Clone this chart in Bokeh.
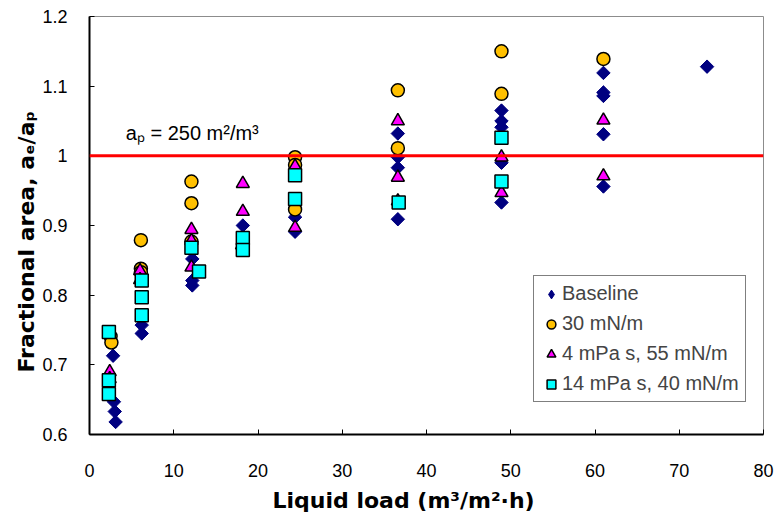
import math
from bokeh.plotting import figure
from bokeh.models import Span, FixedTicker, Legend, LegendItem, Label, Title
from bokeh.embed import file_html
from bokeh.resources import INLINE

# ---- data ----
base_x = [2.8, 2.9, 3.0, 3.1, 6.2, 6.2, 12.2, 12.2, 12.2, 18.2, 24.4, 24.4,
          36.6, 36.6, 36.6, 36.6, 48.9, 48.9, 48.9, 48.9, 48.9,
          61.0, 61.0, 61.0, 61.0, 61.0, 73.3]
base_y = [0.713, 0.647, 0.633, 0.618, 0.757, 0.745, 0.852, 0.821, 0.814, 0.900, 0.912, 0.891,
          1.032, 0.998, 0.983, 0.909, 1.065, 1.050, 1.041, 0.990, 0.933,
          1.119, 1.091, 1.086, 1.031, 0.956, 1.128]

c30_x = [2.5, 2.6, 6.1, 6.1, 6.1, 12.1, 12.1, 12.1, 24.4, 24.4, 24.4, 36.6, 36.6, 48.9, 48.9, 61.0]
c30_y = [0.741, 0.732, 0.879, 0.838, 0.833, 0.963, 0.932, 0.877, 0.998, 0.987, 0.923,
         1.094, 1.011, 1.150, 1.089, 1.139]

tri_x = [2.4, 2.4, 6.0, 6.0, 12.1, 12.1, 12.1, 18.2, 18.2, 18.1, 24.4, 24.4,
         36.6, 36.6, 36.6, 48.9, 48.9, 61.0, 61.0]
tri_y = [0.690, 0.680, 0.835, 0.822, 0.894, 0.878, 0.840, 0.960, 0.920, 0.872, 0.985, 0.897,
         1.050, 0.969, 0.935, 0.998, 0.947, 1.051, 0.971]

sq_x = [2.3, 2.3, 2.3, 6.2, 6.2, 6.2, 12.1, 13.0, 18.2, 18.2, 24.4, 24.4, 36.7, 48.9, 48.9]
sq_y = [0.747, 0.678, 0.658, 0.821, 0.797, 0.771, 0.868, 0.834, 0.882, 0.865, 0.972, 0.938,
        0.933, 1.026, 0.963]

x_ticks = [0, 10, 20, 30, 40, 50, 60, 70, 80]
y_ticks = [0.6, 0.7, 0.8, 0.9, 1.0, 1.1, 1.2]
y_tick_labels = ["0.6", "0.7", "0.8", "0.9", "1", "1.1", "1.2"]
ref_level = 1.0
series_names = ["Baseline", "30 mN/m", "4 mPa s, 55 mN/m", "14 mPa s, 40 mN/m"]
x_title = "Liquid load (m³/m²·h)"
y_title = "Fractional area,  aₑ/aₚ"
ref_text = "aₚ = 250 m²/m³"

FONT = "Liberation Sans"
TITLE_FONT = "DejaVu Sans"

p = figure(output_backend="svg", toolbar_location=None,
           x_range=(0, 80), y_range=(0.6, 1.2),
           frame_width=674, frame_height=418,
           min_border_left=89, min_border_right=13, min_border_top=16, min_border_bottom=84)
p.grid.visible = False
p.outline_line_color = "#8c8c8c"
p.outline_line_width = 1
p.background_fill_color = "white"

for ax in (p.xaxis[0], p.yaxis[0]):
    ax.axis_line_color = "black"
    ax.axis_line_width = 2
    ax.major_tick_line_color = "black"
    ax.major_tick_line_width = 1
    ax.major_tick_in = 5
    ax.major_tick_out = 0
    ax.minor_tick_line_color = None
    ax.major_label_text_font = FONT
    ax.major_label_text_font_size = "18px"
    ax.major_label_text_color = "black"

p.xaxis.ticker = FixedTicker(ticks=x_ticks)
p.yaxis.ticker = FixedTicker(ticks=y_ticks)
p.yaxis.major_label_overrides = {t: l for t, l in zip(y_ticks, y_tick_labels)}
p.xaxis.major_label_standoff = 29
p.yaxis.major_label_standoff = 22

# axis titles (placed like the original, slightly off-centre)
p.add_layout(Title(text=x_title, align="left", offset=183, standoff=12,
                   text_font=TITLE_FONT, text_font_style="bold", text_font_size="22px",
                   text_color="black"), "below")
p.add_layout(Title(text=y_title, align="left", offset=62, standoff=2,
                   text_font=TITLE_FONT, text_font_style="bold", text_font_size="22px",
                   text_color="black"), "left")

p.add_layout(Span(location=ref_level, dimension="width", line_color="#ff0000", line_width=3))

# narrow diamond used as the legend key; covered by the rotated squares in the plot
r_base_key = p.scatter(base_x, base_y, marker="diamond", size=12,
                       fill_color="#000080", line_color="#000080", line_width=1)
r_base = p.scatter(base_x, base_y, marker="square", angle=math.pi / 4, size=9.5,
                   fill_color="#000080", line_color="#000080", line_width=1)
r_c30 = p.scatter(c30_x, c30_y, marker="circle", size=13,
                  fill_color="#ffc000", line_color="black", line_width=1.5)
r_tri = p.scatter(tri_x, tri_y, marker="triangle", size=13,
                  fill_color="#ff00ff", line_color="black", line_width=1.5)
r_sq = p.scatter(sq_x, sq_y, marker="square", size=13,
                 fill_color="#00ffff", line_color="black", line_width=1.5)

p.add_layout(Label(x=4.3, y=ref_level, text=ref_text, y_offset=12,
                   text_font=FONT, text_font_size="20px", text_color="black"))

legend = Legend(items=[LegendItem(label=n, renderers=[r]) for n, r in
                       zip(series_names, [r_base_key, r_c30, r_tri, r_sq])],
                location=(444, 32), orientation="vertical",
                border_line_color="black", border_line_width=1.5,
                background_fill_color="white", background_fill_alpha=1,
                label_text_font=FONT, label_text_font_size="20px",
                glyph_width=22, glyph_height=22, label_height=22, spacing=7, padding=6,
                label_standoff=0, margin=0)
p.add_layout(legend, "center")

open("out.html", "w").write(file_html(p, INLINE))
